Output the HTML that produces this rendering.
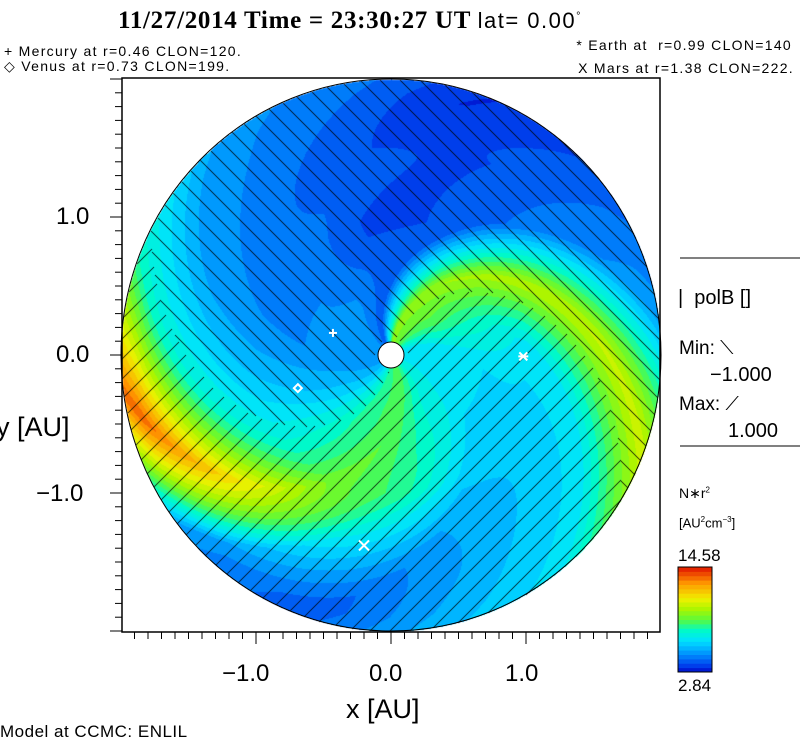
<!DOCTYPE html>
<html><head><meta charset="utf-8">
<style>
body{margin:0;background:#fff;}
#root{position:relative;width:800px;height:746px;overflow:hidden;background:#fff;font-family:"Liberation Sans",sans-serif;color:#000;}
.t{position:absolute;white-space:nowrap;}
.sm{font-size:14px;letter-spacing:1.3px;}
</style></head>
<body>
<div id="root">
<div class="t" style="left:118px;top:7px;font-family:'Liberation Serif',serif;font-weight:bold;font-size:25px;letter-spacing:0.7px;">11/27/2014 Time = 23:30:27 UT <span style="font-family:'Liberation Sans',sans-serif;font-weight:normal;font-size:22px;letter-spacing:1.5px;">lat= 0.00<sup style="font-size:11px">°</sup></span></div>
<div class="t sm" style="left:4px;top:43px;">+ Mercury at r=0.46 CLON=120.</div>
<div class="t sm" style="left:4px;top:58px;">◇ Venus at r=0.73 CLON=199.</div>
<div class="t sm" style="right:8px;top:37px;">* Earth at&nbsp; r=0.99 CLON=140</div>
<div class="t sm" style="right:6px;top:60px;">X Mars at r=1.38 CLON=222.</div>

<canvas id="cv" width="538" height="554" style="position:absolute;left:122px;top:78px;"></canvas>
<svg id="sv" width="800" height="746" style="position:absolute;left:0;top:0;"></svg>

<div class="t" style="left:56px;top:203px;font-size:24px;">1.0</div>
<div class="t" style="left:56px;top:341px;font-size:24px;">0.0</div>
<div class="t" style="left:36px;top:480px;font-size:24px;">−1.0</div>
<div class="t" style="left:-4px;top:412px;font-size:27px;">y [AU]</div>
<div class="t" style="left:222px;top:660px;font-size:24px;">−1.0</div>
<div class="t" style="left:369px;top:660px;font-size:24px;">0.0</div>
<div class="t" style="left:505px;top:660px;font-size:24px;">1.0</div>
<div class="t" style="left:346px;top:694px;font-size:27px;">x [AU]</div>
<div class="t" style="left:0px;top:722px;font-size:17px;letter-spacing:0.5px;">Model at CCMC: ENLIL</div>

<div class="t" style="left:678px;top:287px;font-size:20px;">| &nbsp;polB []</div>
<div class="t" style="left:679px;top:338px;font-size:19px;">Min: ⟍</div>
<div class="t" style="left:710px;top:364px;font-size:20px;">−1.000</div>
<div class="t" style="left:679px;top:394px;font-size:19px;">Max: ⟋</div>
<div class="t" style="left:728px;top:420px;font-size:20px;">1.000</div>
<div class="t" style="left:679px;top:485px;font-size:14px;">N∗r<sup style="font-size:8px">2</sup></div>
<div class="t" style="left:679px;top:515px;font-size:13px;">[AU<sup style="font-size:8px">2</sup>cm<sup style="font-size:8px">−3</sup>]</div>
<div class="t" style="left:678px;top:546px;font-size:17px;">14.58</div>
<div class="t" style="left:678px;top:676px;font-size:17px;">2.84</div>
</div>
<script>
// ---- data ----
const vmin = 2.84, vmax = 14.58;
const psiGrid = [0,30,60,90,120,150,180,210,240,270,300,330];
const radiiGrid = [0.4,1.0,1.9];
const densR04 = [6.5,6.5,8.5,9.5,4.0,5.0,5.0,5.0,6.0,8.0,8.5,7.0];
const densR10 = [6.0,6.0,6.5,10.0,4.0,3.5,4.5,4.5,5.5,7.0,9.0,8.0];
const densR19 = [4.0,5.5,6.5,10.5,5.0,4.0,3.3,4.5,5.0,7.5,13.5,5.0];
const windDeg = 56; // spiral winding, degrees per AU
const hcsPsi = [80,265]; // polarity boundaries (phase)
const planetNames = ['mercury','venus','earth','mars'];
const planetX = [-0.43,-0.69,0.98,-0.20];
const planetY = [0.16,-0.24,-0.01,-1.38];

// ---- scales ----
const cx=391, cy=355, pxX=135, pxY=138, rMax=2.0;
const boxL=122, boxT=78, boxR=660, boxB=632;
const sx = v => cx + v*pxX;
const sy = v => cy - v*pxY;
const hatch = 20;

const stops=[[0,[0,10,200]],[0.06,[0,60,235]],[0.14,[0,120,250]],[0.22,[0,175,255]],[0.3,[0,225,255]],[0.4,[0,250,200]],[0.5,[90,250,60]],[0.6,[170,245,0]],[0.7,[240,240,0]],[0.85,[255,150,0]],[1,[225,20,0]]];
function cmap(f){
  f=Math.max(0,Math.min(1,f)); f=Math.floor(f*24)/24+1/48; f=Math.min(f,1);
  for(let i=1;i<stops.length;i++){ if(f<=stops[i][0]){const a=stops[i-1],b=stops[i],t=(f-a[0])/(b[0]-a[0]);return a[1].map((c,k)=>Math.round(c+(b[1][k]-c)*t));}}
  return stops[stops.length-1][1];
}
function interpPsi(arr,psi){
  psi=((psi%360)+360)%360; const i=Math.floor(psi/30), t=(psi-i*30)/30;
  return arr[i%12]*(1-t)+arr[(i+1)%12]*t;
}
function dens(r,psi){
  const a=interpPsi(densR04,psi),b=interpPsi(densR10,psi),c=interpPsi(densR19,psi);
  if(r<=radiiGrid[0]) return a;
  if(r<=radiiGrid[1]){const t=(r-radiiGrid[0])/(radiiGrid[1]-radiiGrid[0]);return a*(1-t)+b*t;}
  const t=Math.min(1,(r-radiiGrid[1])/(radiiGrid[2]-radiiGrid[1]));return b*(1-t)+c*t;
}
// ---- canvas field ----
const cv=document.getElementById('cv'),ctx=cv.getContext('2d');
const W=cv.width,H=cv.height,img=ctx.createImageData(W,H);
for(let py=0;py<H;py++)for(let px=0;px<W;px++){
  const X=px+boxL, Y=py+boxT;
  const ax=(X-cx)/pxX, ay=(cy-Y)/pxY, r=Math.hypot(ax,ay);
  const o=(py*W+px)*4;
  if(r>rMax){img.data[o]=255;img.data[o+1]=255;img.data[o+2]=255;img.data[o+3]=255;continue;}
  const th=Math.atan2(ay,ax)*180/Math.PI;
  const psi=(((th+windDeg*r)%360)+360)%360;
  let col=cmap((dens(r,psi)-vmin)/(vmax-vmin));
  const neg = psi>hcsPsi[0] && psi<hcsPsi[1];
  const m = neg ? ((X-Y)%hatch+hatch)%hatch : ((X+Y)%hatch+hatch)%hatch;
  if(m===0 && r>0.12) col=[0,0,0];
  img.data[o]=col[0];img.data[o+1]=col[1];img.data[o+2]=col[2];img.data[o+3]=255;
}
ctx.putImageData(img,0,0);

// ---- svg overlay ----
const NS='http://www.w3.org/2000/svg', sv=document.getElementById('sv');
function mk(tag,attrs){const e=document.createElementNS(NS,tag);for(const k in attrs)e.setAttribute(k,attrs[k]);sv.appendChild(e);return e;}
const border=mk('ellipse',{cx:cx,cy:cy,rx:rMax*pxX,ry:rMax*pxY,fill:'none',stroke:'#000','stroke-width':1});


const frame=mk('rect',{x:boxL,y:boxT,width:boxR-boxL,height:boxB-boxT,fill:'none',stroke:'#000','stroke-width':1.5});


const sun=mk('circle',{cx:cx,cy:cy,r:13,fill:'#fff',stroke:'#000','stroke-width':1});


for(let i=-20;i<=20;i++){
  const v=i/10, x=sx(v);
  if(x>=boxL&&x<=boxR){const major=i%10===0;const t=mk('line',{x1:x,y1:boxB,x2:x,y2:boxB+(major?12:7),stroke:'#000','stroke-width':1});
    
    }
  const y=sy(v);
  if(y>=boxT&&y<=boxB){const major=i%10===0;const t=mk('line',{x1:boxL,y1:y,x2:boxL-(major?12:7),y2:y,stroke:'#000','stroke-width':1});
    
    }
}
planetNames.forEach((n,i)=>{
  const x=sx(planetX[i]),y=sy(planetY[i]);const g=document.createElementNS(NS,'g');sv.appendChild(g);
  
  
  const add=(tag,a)=>{const e=document.createElementNS(NS,tag);for(const k in a)e.setAttribute(k,a[k]);e.setAttribute('stroke','#fff');e.setAttribute('stroke-width','2');e.setAttribute('fill','none');g.appendChild(e);};
  if(n==='mercury'){add('line',{x1:x-4,y1:y,x2:x+4,y2:y});add('line',{x1:x,y1:y-4,x2:x,y2:y+4});}
  else if(n==='venus'){add('polygon',{points:`${x},${y-4} ${x+4},${y} ${x},${y+4} ${x-4},${y}`});}
  else if(n==='earth'){add('line',{x1:x-5,y1:y,x2:x+5,y2:y});add('line',{x1:x-4,y1:y-4,x2:x+4,y2:y+4});add('line',{x1:x-4,y1:y+4,x2:x+4,y2:y-4});}
  else {add('line',{x1:x-5,y1:y-5,x2:x+5,y2:y+5});add('line',{x1:x-5,y1:y+5,x2:x+5,y2:y-5});}
});
[[680,258],[680,446]].forEach(p=>{const l=mk('line',{x1:p[0],y1:p[1],x2:800,y2:p[1],stroke:'#000','stroke-width':1});
  
  });
const nb=24, cbT=567, cbB=672, cbL=678, cbW=34;
for(let i=0;i<nb;i++){
  const c=cmap((i+0.5)/nb), h=(cbB-cbT)/nb;
  const r=mk('rect',{x:cbL,y:cbB-(i+1)*h,width:cbW,height:h+0.5,fill:`rgb(${c[0]},${c[1]},${c[2]})`});
  
  
}
const cbf=mk('rect',{x:cbL,y:cbT,width:cbW,height:cbB-cbT,fill:'none',stroke:'#000','stroke-width':1});


</script>
</body></html>
